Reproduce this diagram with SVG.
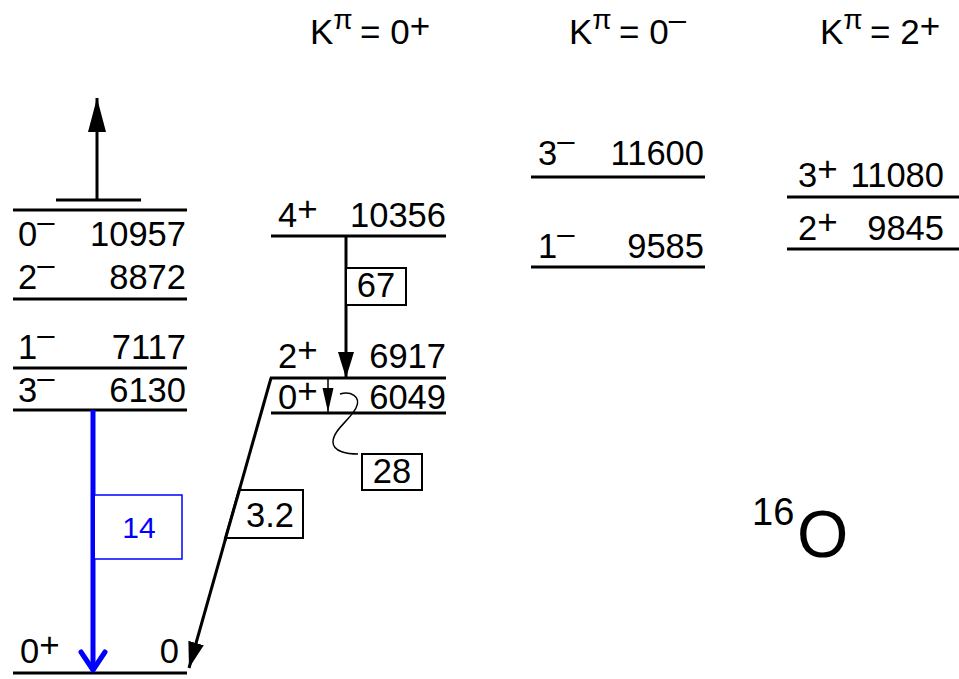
<svg xmlns="http://www.w3.org/2000/svg" width="959" height="679" viewBox="0 0 959 679">
<style>
.t{font-family:"Liberation Sans",Arial,sans-serif;font-size:34.5px;fill:#000}
.h{font-family:"Liberation Sans",Arial,sans-serif;font-size:35px;fill:#000}
.pl{font-size:35px}
.mi{font-size:31px}
.pi{font-size:28px}
.lvl{stroke:#000;stroke-width:3;fill:none}
.ln{stroke:#000;stroke-width:3;fill:none}
.thin{stroke:#000;stroke-width:1.5;fill:none}
.box{stroke:#000;stroke-width:2;fill:#fff}
</style>
<defs>
<marker id="ah" markerUnits="userSpaceOnUse" markerWidth="28" markerHeight="18" viewBox="0 0 28 18" refX="26" refY="9" orient="auto">
<path d="M0,1 L26,9 L0,17 Z" fill="#000"/>
</marker>
<marker id="ahBig" markerUnits="userSpaceOnUse" markerWidth="36" markerHeight="20" viewBox="0 0 36 20" refX="34" refY="10" orient="auto">
<path d="M0,1 L34,10 L0,19 Z" fill="#000"/>
</marker>
<marker id="ahSmall" markerUnits="userSpaceOnUse" markerWidth="26" markerHeight="12" viewBox="0 0 26 12" refX="24" refY="6" orient="auto">
<path d="M0,0.5 L24,6 L0,11.5 Z" fill="#000"/>
</marker>
</defs>

<g id="headers">
<text class="h" x="310" y="44">K<tspan class="pi" dy="-15">π</tspan><tspan x="360" dy="15">= 0</tspan><tspan class="pl" dy="-6">+</tspan></text>
<text class="h" x="569" y="44">K<tspan class="pi" dy="-15">π</tspan><tspan x="619" dy="15">= 0</tspan><tspan class="mi" dy="-14">–</tspan></text>
<text class="h" x="820" y="44">K<tspan class="pi" dy="-15">π</tspan><tspan x="870" dy="15">= 2</tspan><tspan class="pl" dy="-6">+</tspan></text>
</g>

<g id="lvl-0minus-10957">
<line class="lvl" x1="13" y1="210" x2="187" y2="210"/>
<text class="t" x="18" y="246">0<tspan class="mi" dy="-14">–</tspan></text>
<text class="t" x="186" y="246" text-anchor="end">10957</text>
</g>
<g id="lvl-2minus-8872">
<line class="lvl" x1="13" y1="299" x2="187" y2="299"/>
<text class="t" x="18" y="289">2<tspan class="mi" dy="-14">–</tspan></text>
<text class="t" x="186" y="289" text-anchor="end">8872</text>
</g>
<g id="lvl-1minus-7117">
<line class="lvl" x1="13" y1="368" x2="187" y2="368"/>
<text class="t" x="18" y="359">1<tspan class="mi" dy="-14">–</tspan></text>
<text class="t" x="186" y="359" text-anchor="end">7117</text>
</g>
<g id="lvl-3minus-6130">
<line class="lvl" x1="13" y1="410" x2="187" y2="410"/>
<text class="t" x="18" y="402">3<tspan class="mi" dy="-14">–</tspan></text>
<text class="t" x="186" y="402" text-anchor="end">6130</text>
</g>
<g id="lvl-ground">
<line class="lvl" x1="13" y1="673" x2="187" y2="673"/>
<text class="t" x="20" y="663">0<tspan class="pl" dy="-6">+</tspan></text>
<text class="t" x="179" y="663" text-anchor="end">0</text>
</g>
<g id="threshold">
<line class="lvl" x1="56" y1="200" x2="141" y2="200"/>
</g>

<g id="lvl-4plus-10356">
<line class="lvl" x1="271" y1="236" x2="446" y2="236"/>
<text class="t" x="278" y="227">4<tspan class="pl" dy="-6">+</tspan></text>
<text class="t" x="446" y="227" text-anchor="end">10356</text>
</g>
<g id="lvl-2plus-6917">
<line class="lvl" x1="270" y1="378" x2="446" y2="378"/>
<text class="t" x="278" y="368">2<tspan class="pl" dy="-6">+</tspan></text>
<text class="t" x="446" y="368" text-anchor="end">6917</text>
</g>
<g id="lvl-0plus-6049">
<line class="lvl" x1="271" y1="413" x2="446" y2="413"/>
<text class="t" x="278" y="409">0<tspan class="pl" dy="-6">+</tspan></text>
<text class="t" x="446" y="409" text-anchor="end">6049</text>
</g>

<g id="lvl-3minus-11600">
<line class="lvl" x1="531" y1="177" x2="705" y2="177"/>
<text class="t" x="538" y="165">3<tspan class="mi" dy="-14">–</tspan></text>
<text class="t" x="704" y="165" text-anchor="end">11600</text>
</g>
<g id="lvl-1minus-9585">
<line class="lvl" x1="531" y1="267" x2="705" y2="267"/>
<text class="t" x="538" y="258">1<tspan class="mi" dy="-14">–</tspan></text>
<text class="t" x="704" y="258" text-anchor="end">9585</text>
</g>

<g id="lvl-3plus-11080">
<line class="lvl" x1="787" y1="197" x2="959" y2="197"/>
<text class="t" x="798" y="187">3<tspan class="pl" dy="-6">+</tspan></text>
<text class="t" x="944" y="187" text-anchor="end">11080</text>
</g>
<g id="lvl-2plus-9845">
<line class="lvl" x1="787" y1="249" x2="959" y2="249"/>
<text class="t" x="798" y="240">2<tspan class="pl" dy="-6">+</tspan></text>
<text class="t" x="944" y="240" text-anchor="end">9845</text>
</g>

<g id="nucleus">
<text font-family="Liberation Sans, Arial, sans-serif" font-size="38" x="752" y="525">16</text>
<text font-family="Liberation Sans, Arial, sans-serif" font-size="66" x="797" y="557">O</text>
</g>

<g id="connectors">
<line class="ln" x1="97" y1="200" x2="97" y2="98" marker-end="url(#ahBig)"/>
<line class="ln" x1="346" y1="236" x2="346" y2="378" marker-end="url(#ah)"/>
<line class="ln" x1="271" y1="378" x2="189" y2="668" marker-end="url(#ah)"/>
<line class="thin" x1="328" y1="378" x2="328" y2="412" marker-end="url(#ahSmall)"/>
<path class="thin" d="M340,394 C350,391 362,396 356,408 C350,420 333,430 333,442 C333,452 348,454 358,454"/>
<line x1="93" y1="410" x2="93" y2="670" stroke="#0000ff" stroke-width="5"/>
<polyline points="81,652 93,670 105,652" fill="none" stroke="#0000ff" stroke-width="5" stroke-linecap="round" stroke-linejoin="round"/>
</g>

<g id="label-67">
<rect class="box" x="346" y="268" width="60" height="37"/>
<text class="t" x="376" y="297" text-anchor="middle">67</text>
</g>
<g id="label-28">
<rect class="box" x="362" y="454" width="60" height="36"/>
<text class="t" x="392" y="483" text-anchor="middle">28</text>
</g>
<g id="label-3.2">
<polygon class="box" points="239.3,490 303,490 303,538 225.7,538"/>
<line class="ln" x1="240" y1="488" x2="225" y2="540"/>
<text class="t" x="270" y="527" text-anchor="middle">3.2</text>
</g>
<g id="label-14">
<path d="M95,495 H182 V559 H95" fill="#fff" stroke="#0000ff" stroke-width="1.5"/>
<text x="139" y="538" text-anchor="middle" font-family="Liberation Sans, Arial, sans-serif" font-size="30" fill="#0000ff">14</text>
</g>
</svg>
